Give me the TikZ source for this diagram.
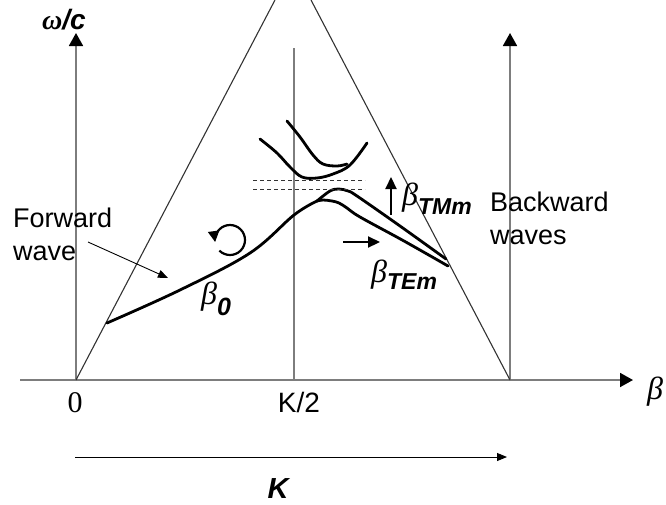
\documentclass[tikz,border=0pt]{standalone}
\usepackage{fontspec}
\setmainfont{Liberation Sans}
\newfontfamily\grec{Liberation Serif}
\usepackage{tikz}
\usetikzlibrary{positioning,arrows.meta,calc}
\definecolor{gri}{RGB}{125,125,125}
\newcommand\betaind[2][7pt]{{\grec\itshape β}\raisebox{-#1}{\fontsize{23}{23}\selectfont\bfseries\itshape #2}}
\tikzset{
  axa/.style      = {draw=gri, line width=1.8pt, -{Triangle[length=13pt, width=14pt, color=black]}},
  linie/.style    = {draw=gri, line width=1.6pt},
  oblic/.style    = {draw=black!80, line width=1.1pt},
  curba/.style    = {line width=2.8pt, line cap=round, line join=round},
  punctat/.style  = {draw=black!80, line width=0.9pt, dash pattern=on 4pt off 3pt},
  sageata/.style  = {-{Triangle[length=10pt, width=8pt]}, line width=0.9pt},
  sagplina/.style = {-{Triangle[length=12pt, width=11pt]}, line width=2.2pt},
  eticheta/.style = {inner sep=0pt, font=\fontsize{27}{33}\selectfont},
  simbol/.style   = {inner sep=0pt, font=\fontsize{32}{36}\selectfont}
}

\begin{document}
\begin{tikzpicture}[x=1pt, y=-1pt]
        \useasboundingbox (0,0) rectangle (666,504);

        % axe si drepte
        \coordinate (O) at (76,380);
        \coordinate (B) at (510,380);
        \coordinate (M) at (294,380);
        \coordinate (xst) at (20,380);
        \coordinate (xdr) at (633,380);
        \coordinate (ysus) at (76,33);
        \coordinate (bsus) at (510,33);
        \coordinate (msus) at (294,48);
        \coordinate (lsus) at (275,0);
        \coordinate (rsus) at (311,0);

        \draw[axa] (xst) -- (xdr);
        \draw[axa] (O) -- (ysus);
        \draw[axa] (B) -- (bsus);
        \draw[linie] (M) -- (msus);
        \draw[oblic] (O) -- (lsus);
        \draw[oblic] (B) -- (rsus);

        % curbele de dispersie
        \coordinate (J) at (317,201);
        \draw[curba] plot[smooth, tension=0.6] coordinates {(107,323) (180,290) (250,253) (294,215) (J)};
        \draw[curba] plot[smooth, tension=0.6] coordinates {(J) (330,191) (339,189) (348,191) (357,196) (400,226) (446,259)};
        \draw[curba] plot[smooth, tension=0.6] coordinates {(J) (323,200) (332,201) (339,203) (347,208) (360,217) (404,241) (448,266)};
        \draw[curba] plot[smooth, tension=0.6] coordinates {(260,139) (277,153) (290,167) (302,177) (317,178) (333,174) (350,165) (367,143)};
        \draw[curba] plot[smooth, tension=0.6] coordinates {(287,121) (300,137) (313,155) (323,164) (337,166) (347,164)};

        \draw[punctat] (253,180) -- (365,180);
        \draw[punctat] (253,189) -- (365,189);

        % sageti
        \coordinate (tmjos) at (391,215);
        \coordinate (tmsus) at (391,177);
        \coordinate (testg) at (343,242);
        \coordinate (tedr) at (380,242);
        \draw[sagplina] (tmjos) -- (tmsus);
        \draw[sagplina] (testg) -- (tedr);

        \coordinate (C) at (230,240);
        \draw[line width=2.2pt, -{Triangle[length=11pt, width=11pt]}] ($(C)+(-225:15)$) arc[start angle=-225, end angle=-548, radius=15];

        % etichete
        \node[eticheta, align=left, anchor=north west] (fw) at (13,208) {Forward\\wave};
        \node[eticheta, align=left, anchor=north west] (bw) at (490,192) {Backward\\waves};
        \coordinate (fwst) at (88,242);
        \coordinate (fwcap) at (168,278);
        \draw[sageata] (fwst) -- (fwcap);

        \node[eticheta, font=\fontsize{28}{32}\selectfont\bfseries\itshape, anchor=base] (om) at (64,29) {{\grec ω}/c};
        \node[simbol, anchor=base] (beta) at (655,399) {\grec\itshape β};
        \node[simbol, anchor=base west] (b0) at (201,304) {\betaind[11pt]{\fontsize{25}{25}\selectfont 0}};
        \node[simbol, anchor=base west] (btm) at (402,205) {\betaind[9pt]{TMm}};
        \node[simbol, anchor=base west] (bte) at (371,282) {\betaind{TEm}};

        \node[simbol, font=\fontsize{30}{36}\selectfont\grec, anchor=base] (zero) at (75,412) {0};
        \node[eticheta, font=\fontsize{28}{32}\selectfont, anchor=base] (k2) at (299,412) {K/2};

        \coordinate (kst) at (75,457);
        \coordinate (kdr) at (507,457);
        \draw[sageata] (kst) -- (kdr);
        \node[eticheta, font=\fontsize{29}{32}\selectfont\bfseries\itshape, anchor=base] (K) at (278,498) {K};
    \end{tikzpicture}
\end{document}
